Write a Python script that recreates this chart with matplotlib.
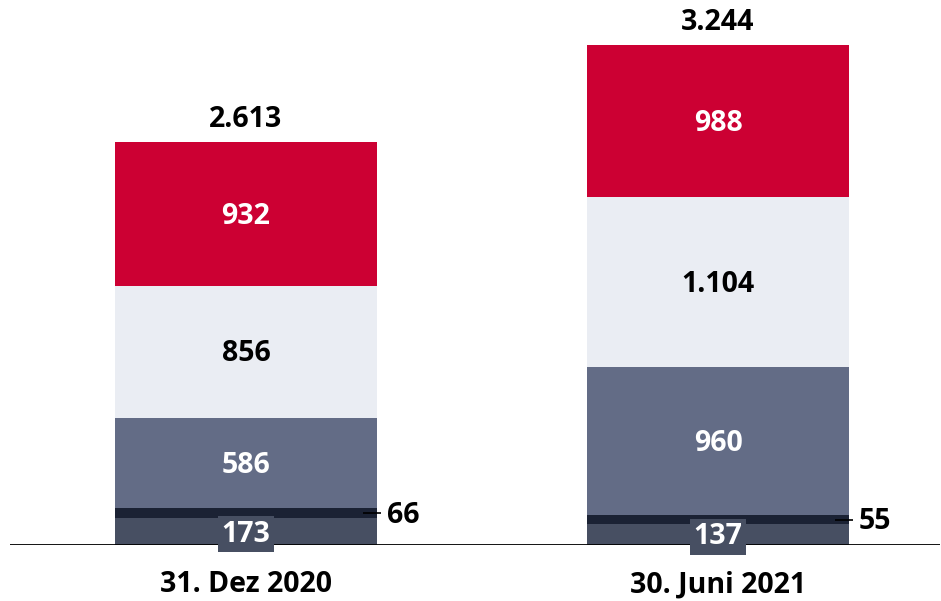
import matplotlib
matplotlib.use("Agg")
import matplotlib.pyplot as plt

categories = ["31. Dez 2020", "30. Juni 2021"]
seg_bottom = [173, 137]
seg_dark = [66, 55]
seg_mid = [586, 960]
seg_light = [856, 1104]
seg_red = [932, 988]
totals = ["2.613", "3.244"]
lbl_bottom = ["173", "137"]
lbl_dark = ["66", "55"]
lbl_mid = ["586", "960"]
lbl_light = ["856", "1.104"]
lbl_red = ["932", "988"]

plt.rcParams['font.family'] = ['Open Sans', 'DejaVu Sans']

W, H = 941, 601
fig = plt.figure(figsize=(W/100, H/100), dpi=100)
scale = 500/3244.0
ax = fig.add_axes([10/W, 56/H, 930/W, 535/H])
ax.set_xlim(-0.5, 1.470)
ax.set_ylim(0, 535/scale)
ax.axis('off')

colors = ["#474f62", "#1b2234", "#636c86", "#eaedf3", "#cc0033"]
series = [seg_bottom, seg_dark, seg_mid, seg_light, seg_red]
x = [0, 1]
width = 262/472
bottoms = [0, 0]
for vals, c in zip(series, colors):
    ax.bar(x, vals, width, bottom=bottoms, color=c, linewidth=0, zorder=2)
    bottoms = [b + v for b, v in zip(bottoms, vals)]

ax.axhline(0, xmin=0, xmax=1, color='black', lw=1.3, zorder=3)

fs = 20.5
dy = -2/scale
for i in range(2):
    ax.text(x[i], seg_bottom[i]/2 - 3 + dy, lbl_bottom[i], ha='center', va='center', color='white',
            fontsize=fs, fontweight='bold', zorder=5,
            bbox=dict(boxstyle='square,pad=0.12', fc=colors[0], ec='none'))
    b1 = seg_bottom[i]
    mid_dark = b1 + seg_dark[i]/2
    ax.plot([x[i] + width/2 - 0.03, x[i] + width/2 + 0.008], [mid_dark, mid_dark], color='black', lw=1.2, zorder=4,
            solid_capstyle='butt')
    ax.text(x[i] + width/2 + 0.02, mid_dark + dy, lbl_dark[i], ha='left', va='center', color='black',
            fontsize=fs, fontweight='bold')
    b2 = b1 + seg_dark[i]
    ax.text(x[i], b2 + seg_mid[i]/2 + dy, lbl_mid[i], ha='center', va='center', color='white',
            fontsize=fs, fontweight='bold', zorder=5)
    b3 = b2 + seg_mid[i]
    ax.text(x[i], b3 + seg_light[i]/2 + dy, lbl_light[i], ha='center', va='center', color='black',
            fontsize=fs, fontweight='bold', zorder=5)
    b4 = b3 + seg_light[i]
    ax.text(x[i], b4 + seg_red[i]/2 + dy, lbl_red[i], ha='center', va='center', color='black' if False else 'white',
            fontsize=fs, fontweight='bold', zorder=5)
    b5 = b4 + seg_red[i]
    ax.text(x[i], b5 + 23/scale, totals[i], ha='center', va='center', color='black',
            fontsize=fs, fontweight='bold')
    ax.text(x[i], -40/scale, categories[i], ha='center', va='center', color='black',
            fontsize=fs, fontweight='bold', clip_on=False)

fig.savefig("out.png", dpi=100)
